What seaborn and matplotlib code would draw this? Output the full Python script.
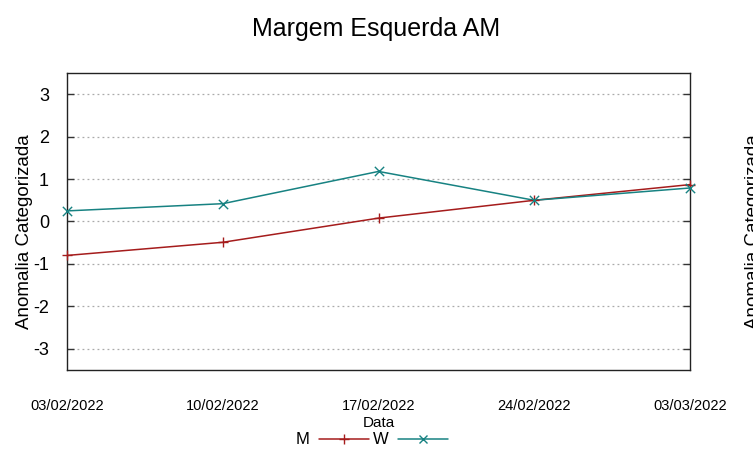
import matplotlib
matplotlib.use("Agg")
import matplotlib.pyplot as plt
import matplotlib.dates as mdates
from matplotlib.lines import Line2D
import seaborn as sns
import pandas as pd

dates = ["2022-02-03", "2022-02-10", "2022-02-17", "2022-02-24", "2022-03-03"]
m_values = [-0.80, -0.49, 0.08, 0.50, 0.87]
w_values = [0.25, 0.42, 1.18, 0.50, 0.79]
series_names = ["M", "W"]
y_ticks = [-3, -2, -1, 0, 1, 2, 3]

df = pd.DataFrame({
    "Data": pd.to_datetime(dates * 2),
    "valor": m_values + w_values,
    "serie": [series_names[0]] * len(dates) + [series_names[1]] * len(dates),
})

sns.set_style("white")
plt.rcParams["font.family"] = ["Liberation Sans", "DejaVu Sans"]
plt.rcParams["text.color"] = "black"
plt.rcParams["axes.labelcolor"] = "black"
plt.rcParams["xtick.color"] = "black"
plt.rcParams["ytick.color"] = "black"

fig = plt.figure(figsize=(7.53, 4.59), dpi=100)
ax = fig.add_axes([67 / 753, 1 - 370 / 459, (690 - 67) / 753, (370 - 73) / 459])

palette = {"M": "#a51c1c", "W": "#178282"}
sns.lineplot(data=df, x="Data", y="valor", hue="serie", palette=palette,
             linewidth=1.1, ax=ax, legend=False)
for name, mk in (("M", "+"), ("W", "x")):
    sub = df[df["serie"] == name]
    sns.scatterplot(data=sub, x="Data", y="valor", marker=mk, color=palette[name],
                    s=45, linewidth=1.0, ax=ax, legend=False, zorder=5, clip_on=False)

ax.set_ylim(-3.5, 3.5)
ax.set_xlim(pd.to_datetime(dates[0]), pd.to_datetime(dates[-1]))
ax.set_yticks(y_ticks)
ax.set_yticklabels([str(t) for t in y_ticks], fontsize=13)
ax.set_xticks(pd.to_datetime(dates))
ax.xaxis.set_major_formatter(mdates.DateFormatter("%d/%m/%Y"))
for lbl in ax.get_xticklabels():
    lbl.set_fontsize(10.5)
ax.tick_params(axis="x", length=0, pad=21)
ax.tick_params(axis="y", direction="in", length=5, width=1, left=True, right=True,
               color="#333333", pad=13)
ax.yaxis.grid(True, linestyle=(0, (1.5, 2.5)), color="#aaaaaa", linewidth=0.9)
ax.xaxis.grid(False)
for sp in ax.spines.values():
    sp.set_visible(True)
    sp.set_color("#222222")
    sp.set_linewidth(1.0)

ax.set_xlabel("Data", fontsize=11, labelpad=2)
ax.set_ylabel("Anomalia Categorizada", fontsize=13.5)
ax.yaxis.set_label_coords((33 - 67) / 623, (370 - 232) / 297)
fig.suptitle("Margem Esquerda AM", fontsize=18, y=1 - 17 / 459, va="top")

handles = [Line2D([], [], color=palette["M"], marker="+", markersize=7, linewidth=1.1),
           Line2D([], [], color=palette["W"], marker="x", markersize=6, linewidth=1.1)]
fig.legend(handles, series_names, loc="center", bbox_to_anchor=(372 / 753, 1 - 440 / 459),
           ncol=2, frameon=False, markerfirst=False, handlelength=3.0,
           handletextpad=0.6, columnspacing=0.2, prop={"size": 12})

# cropped mirror label on the right edge
fig.text(745 / 753, 1 - 232 / 459, "Anomalia Categorizada", rotation=90,
         ha="left", va="center", fontsize=13.5)

fig.savefig("out.png", dpi=100)
